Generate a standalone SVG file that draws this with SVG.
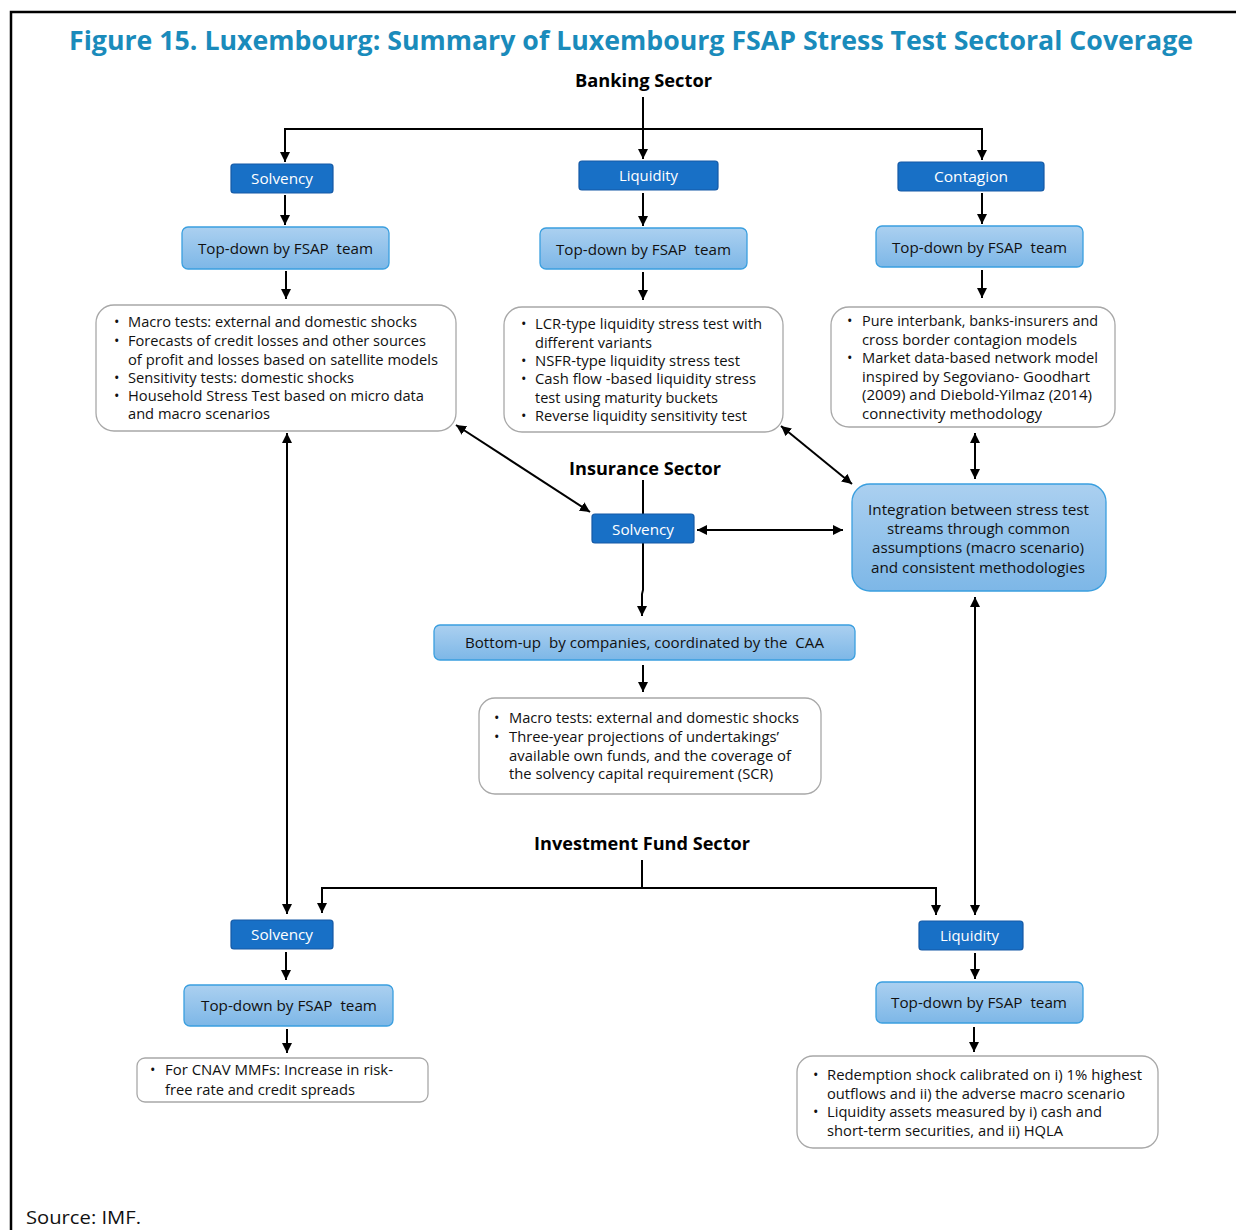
<svg xmlns="http://www.w3.org/2000/svg" width="1236" height="1230" viewBox="0 0 1236 1230">
<defs>
<linearGradient id="lg" x1="0" y1="0" x2="0" y2="1">
<stop offset="0" stop-color="#abd0f0"/>
<stop offset="1" stop-color="#7db7e7"/>
</linearGradient>
<marker id="ah" viewBox="0 0 10 10" refX="10" refY="5" markerWidth="10" markerHeight="10" markerUnits="userSpaceOnUse" orient="auto-start-reverse">
<path d="M0,0 L10,5 L0,10 Z" fill="#000"/>
</marker>
<style>
.t{font-family:"Open Sans","Noto Sans","Liberation Sans",sans-serif;font-size:14.5px;fill:#111}
.w{font-family:"Open Sans","Noto Sans","Liberation Sans",sans-serif;font-size:14.5px;fill:#fff}
.h{font-family:"Open Sans","Noto Sans","Liberation Sans",sans-serif;font-size:18px;font-weight:bold;fill:#000}
.title{font-family:"Open Sans","Noto Sans","Liberation Sans",sans-serif;font-size:27px;font-weight:bold;fill:#1a8bbb}
.dk{fill:#1870c6;stroke:#1459a6;stroke-width:1.2}
.lt{fill:url(#lg);stroke:#3a9fdf;stroke-width:1.3}
.bx{fill:#fff;stroke:#a8a8a8;stroke-width:1.3}
.c{fill:none;stroke:#000;stroke-width:2}
.a{marker-end:url(#ah)}
.d{marker-start:url(#ah);marker-end:url(#ah)}
</style>
</defs>
<rect width="1236" height="1230" fill="#fff"/>
<g id="frame"><path d="M11,1230 V12 H1236" fill="none" stroke="#000" stroke-width="2.5"/></g>
<text id="title" class="title" x="69" y="50" textLength="1124" lengthAdjust="spacingAndGlyphs">Figure 15. Luxembourg: Summary of Luxembourg FSAP Stress Test Sectoral Coverage</text>

<g id="connectors">
<path class="c a" d="M643,97 V159"/>
<path class="c a" d="M643,129 H285 V162"/>
<path class="c a" d="M643,129 H982 V160"/>
<path class="c a" d="M285,195 V225"/>
<path class="c a" d="M643,193 V226"/>
<path class="c a" d="M982,193 V224"/>
<path class="c a" d="M286,271 V299"/>
<path class="c a" d="M643,272 V300"/>
<path class="c a" d="M982,270 V298"/>
<path class="c d" d="M456,425 L590,512"/>
<path class="c d" d="M781,426 L852,484"/>
<path class="c d" d="M975,433 V479"/>
<path class="c d" d="M697,530 H843"/>
<path class="c a" d="M643,480 V590 L642,594 V616"/>
<path class="c a" d="M643,665 V692"/>
<path class="c d" d="M287,433 V914"/>
<path class="c d" d="M975,597 V915"/>
<path class="c" d="M642,860 V888"/>
<path class="c a" d="M642,888 H322 V913"/>
<path class="c a" d="M642,888 H936 V915"/>
<path class="c a" d="M286,952 V980"/>
<path class="c a" d="M287,1029 V1053"/>
<path class="c a" d="M975,953 V979"/>
<path class="c a" d="M974,1027 V1052"/>
</g>

<g id="banking-sector"><text class="h" x="643.5" y="87" text-anchor="middle" textLength="137" lengthAdjust="spacingAndGlyphs">Banking Sector</text></g>

<g id="bank-solvency"><rect class="dk" x="231" y="164" width="102" height="29" rx="3"/><text class="w" x="282" y="184" text-anchor="middle" textLength="62" lengthAdjust="spacingAndGlyphs">Solvency</text></g>
<g id="bank-liquidity"><rect class="dk" x="579" y="161" width="139" height="29" rx="3"/><text class="w" x="648.5" y="181" text-anchor="middle" textLength="59" lengthAdjust="spacingAndGlyphs">Liquidity</text></g>
<g id="bank-contagion"><rect class="dk" x="898" y="162" width="146" height="29" rx="3"/><text class="w" x="971" y="182" text-anchor="middle" textLength="74" lengthAdjust="spacingAndGlyphs">Contagion</text></g>

<g id="bank-td1"><rect class="lt" x="182" y="227" width="207" height="42" rx="6"/><text class="t" x="285.5" y="254" text-anchor="middle" textLength="175" lengthAdjust="spacingAndGlyphs">Top-down by FSAP&#160; team</text></g>
<g id="bank-td2"><rect class="lt" x="540" y="228" width="207" height="41" rx="6"/><text class="t" x="643.5" y="255" text-anchor="middle" textLength="175" lengthAdjust="spacingAndGlyphs">Top-down by FSAP&#160; team</text></g>
<g id="bank-td3"><rect class="lt" x="876" y="226" width="207" height="41" rx="6"/><text class="t" x="979.5" y="253" text-anchor="middle" textLength="175" lengthAdjust="spacingAndGlyphs">Top-down by FSAP&#160; team</text></g>

<g id="bank-solvency-detail"><rect class="bx" x="96" y="305" width="360" height="126" rx="18"/>
<text class="t" x="114" y="327">•</text><text class="t" x="128" y="327" textLength="289" lengthAdjust="spacingAndGlyphs">Macro tests: external and domestic shocks</text>
<text class="t" x="114" y="346">•</text><text class="t" x="128" y="346" textLength="298" lengthAdjust="spacingAndGlyphs">Forecasts of credit losses and other sources</text>
<text class="t" x="128" y="365" textLength="310" lengthAdjust="spacingAndGlyphs">of profit and losses based on satellite models</text>
<text class="t" x="114" y="383">•</text><text class="t" x="128" y="383" textLength="226" lengthAdjust="spacingAndGlyphs">Sensitivity tests: domestic shocks</text>
<text class="t" x="114" y="401">•</text><text class="t" x="128" y="401" textLength="296" lengthAdjust="spacingAndGlyphs">Household Stress Test based on micro data</text>
<text class="t" x="128" y="419" textLength="142" lengthAdjust="spacingAndGlyphs">and macro scenarios</text>
</g>

<g id="bank-liquidity-detail"><rect class="bx" x="504" y="307" width="279" height="125" rx="18"/>
<text class="t" x="521" y="329">•</text><text class="t" x="535" y="329" textLength="227" lengthAdjust="spacingAndGlyphs">LCR-type liquidity stress test with</text>
<text class="t" x="535" y="348" textLength="117" lengthAdjust="spacingAndGlyphs">different variants</text>
<text class="t" x="521" y="366">•</text><text class="t" x="535" y="366" textLength="205" lengthAdjust="spacingAndGlyphs">NSFR-type liquidity stress test</text>
<text class="t" x="521" y="384">•</text><text class="t" x="535" y="384" textLength="221" lengthAdjust="spacingAndGlyphs">Cash flow -based liquidity stress</text>
<text class="t" x="535" y="403" textLength="183" lengthAdjust="spacingAndGlyphs">test using maturity buckets</text>
<text class="t" x="521" y="421">•</text><text class="t" x="535" y="421" textLength="212" lengthAdjust="spacingAndGlyphs">Reverse liquidity sensitivity test</text>
</g>

<g id="bank-contagion-detail"><rect class="bx" x="831" y="307" width="284" height="120" rx="18"/>
<text class="t" x="847" y="326">•</text><text class="t" x="862" y="326" textLength="236" lengthAdjust="spacingAndGlyphs">Pure interbank, banks-insurers and</text>
<text class="t" x="862" y="345" textLength="215" lengthAdjust="spacingAndGlyphs">cross border contagion models</text>
<text class="t" x="847" y="363">•</text><text class="t" x="862" y="363" textLength="236" lengthAdjust="spacingAndGlyphs">Market data-based network model</text>
<text class="t" x="862" y="382" textLength="228" lengthAdjust="spacingAndGlyphs">inspired by Segoviano- Goodhart</text>
<text class="t" x="862" y="400" textLength="230" lengthAdjust="spacingAndGlyphs">(2009) and Diebold-Yilmaz (2014)</text>
<text class="t" x="862" y="419" textLength="180" lengthAdjust="spacingAndGlyphs">connectivity methodology</text>
</g>

<g id="insurance-sector"><text class="h" x="645" y="475" text-anchor="middle" textLength="152" lengthAdjust="spacingAndGlyphs">Insurance Sector</text></g>
<g id="ins-solvency"><rect class="dk" x="592" y="514" width="102" height="29" rx="3"/><text class="w" x="643" y="535" text-anchor="middle" textLength="62" lengthAdjust="spacingAndGlyphs">Solvency</text></g>

<g id="integration"><rect class="lt" x="852" y="484" width="254" height="107" rx="18"/>
<text class="t" x="978.5" y="515" text-anchor="middle" textLength="221" lengthAdjust="spacingAndGlyphs">Integration between stress test</text>
<text class="t" x="978.5" y="534" text-anchor="middle" textLength="183" lengthAdjust="spacingAndGlyphs">streams through common</text>
<text class="t" x="978" y="553" text-anchor="middle" textLength="212" lengthAdjust="spacingAndGlyphs">assumptions (macro scenario)</text>
<text class="t" x="978" y="573" text-anchor="middle" textLength="214" lengthAdjust="spacingAndGlyphs">and consistent methodologies</text>
</g>

<g id="ins-bottomup"><rect class="lt" x="434" y="625" width="421" height="35" rx="6"/><text class="t" x="644.5" y="648" text-anchor="middle" textLength="359" lengthAdjust="spacingAndGlyphs">Bottom-up&#160; by companies, coordinated by the&#160; CAA</text></g>

<g id="ins-detail"><rect class="bx" x="479" y="698" width="342" height="96" rx="16"/>
<text class="t" x="494" y="723">•</text><text class="t" x="509" y="723" textLength="290" lengthAdjust="spacingAndGlyphs">Macro tests: external and domestic shocks</text>
<text class="t" x="494" y="742">•</text><text class="t" x="509" y="742" textLength="270" lengthAdjust="spacingAndGlyphs">Three-year projections of undertakings’</text>
<text class="t" x="509" y="761" textLength="282" lengthAdjust="spacingAndGlyphs">available own funds, and the coverage of</text>
<text class="t" x="509" y="779" textLength="264" lengthAdjust="spacingAndGlyphs">the solvency capital requirement (SCR)</text>
</g>

<g id="investment-fund-sector"><text class="h" x="642" y="850" text-anchor="middle" textLength="216" lengthAdjust="spacingAndGlyphs">Investment Fund Sector</text></g>

<g id="if-solvency"><rect class="dk" x="231" y="920" width="102" height="29" rx="3"/><text class="w" x="282" y="940" text-anchor="middle" textLength="62" lengthAdjust="spacingAndGlyphs">Solvency</text></g>
<g id="if-liquidity"><rect class="dk" x="919" y="921" width="104" height="29" rx="3"/><text class="w" x="969.5" y="941" text-anchor="middle" textLength="59" lengthAdjust="spacingAndGlyphs">Liquidity</text></g>

<g id="if-td1"><rect class="lt" x="184" y="985" width="209" height="41" rx="6"/><text class="t" x="289" y="1011" text-anchor="middle" textLength="176" lengthAdjust="spacingAndGlyphs">Top-down by FSAP&#160; team</text></g>
<g id="if-td2"><rect class="lt" x="876" y="982" width="207" height="41" rx="6"/><text class="t" x="979" y="1008" text-anchor="middle" textLength="176" lengthAdjust="spacingAndGlyphs">Top-down by FSAP&#160; team</text></g>

<g id="if-solvency-detail"><rect class="bx" x="137" y="1058" width="291" height="44" rx="8"/>
<text class="t" x="150" y="1075">•</text><text class="t" x="165" y="1075" textLength="228" lengthAdjust="spacingAndGlyphs">For CNAV MMFs: Increase in risk-</text>
<text class="t" x="165" y="1095" textLength="190" lengthAdjust="spacingAndGlyphs">free rate and credit spreads</text>
</g>

<g id="if-liquidity-detail"><rect class="bx" x="797" y="1056" width="361" height="92" rx="16"/>
<text class="t" x="813" y="1080">•</text><text class="t" x="827" y="1080" textLength="315" lengthAdjust="spacingAndGlyphs">Redemption shock calibrated on i) 1% highest</text>
<text class="t" x="827" y="1099" textLength="298" lengthAdjust="spacingAndGlyphs">outflows and ii) the adverse macro scenario</text>
<text class="t" x="813" y="1117">•</text><text class="t" x="827" y="1117" textLength="275" lengthAdjust="spacingAndGlyphs">Liquidity assets measured by i) cash and</text>
<text class="t" x="827" y="1136" textLength="236" lengthAdjust="spacingAndGlyphs">short-term securities, and ii) HQLA</text>
</g>

<text id="source" x="26" y="1224" font-family="Open Sans, Noto Sans, Liberation Sans, sans-serif" font-size="18" fill="#111" textLength="115" lengthAdjust="spacingAndGlyphs">Source: IMF.</text>
</svg>
